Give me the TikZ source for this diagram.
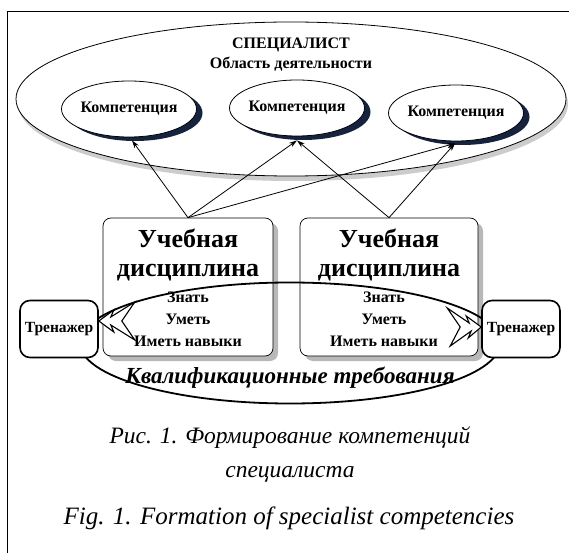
\documentclass[tikz,border=0pt]{standalone}
\usepackage{fontspec}
\setmainfont{Liberation Serif}
\usetikzlibrary{arrows.meta,shapes.geometric,shadows,calc}
\definecolor{navy}{HTML}{15233F}
\begin{document}
\begin{tikzpicture}[x=1pt,y=-1pt,
  comp/.style={ellipse, draw, line width=0.8pt, fill=white, minimum width=135pt, minimum height=56pt, inner sep=0pt,
    font=\bfseries\fontsize{16}{18}\selectfont,
    drop shadow={shadow xshift=6pt, shadow yshift=-4pt, fill=navy, opacity=1}},
  discbox/.style={rectangle, rounded corners=8pt, draw, line width=0.7pt, fill=white, minimum height=138pt,
    drop shadow={shadow xshift=5pt, shadow yshift=-5pt, fill=black!28, opacity=1}},
  trbox/.style={rectangle, rounded corners=10pt, draw, line width=1.6pt, fill=white, minimum width=78pt, minimum height=57pt,
    font=\bfseries\fontsize{15.5}{17}\selectfont, inner sep=0pt},
  conn/.style={-{Stealth[length=8pt,width=5pt]}, line width=0.8pt},
  bolt/.style={draw, fill=white, line width=1.1pt, line join=miter},
  disc/.style={font=\bfseries\fontsize{26}{29}\selectfont, align=center, inner sep=0pt},
  skills/.style={font=\bfseries\fontsize{16}{22}\selectfont, align=center, inner sep=0pt},
  captext/.style={font=\itshape\fontsize{23.5}{34}\selectfont, align=center, inner sep=0pt}
]
\useasboundingbox (0,0) rectangle (569,553);
% frame
\draw[line width=1.3pt] (7.5,553) -- (7.5,11.5) -- (569,11.5);
% big ellipse
\node (spec) [ellipse, draw, line width=0.8pt, fill=white, minimum width=550pt, minimum height=154pt, inner sep=0pt,
  drop shadow={shadow xshift=2pt, shadow yshift=-5pt, fill=black!20, opacity=1}] at (291,99) {};
\node (spect) [font=\bfseries\fontsize{16}{20}\selectfont, align=center, inner sep=0pt] at (291,55) {СПЕЦИАЛИСТ\\Область деятельности};
% competencies
\node (c1) [comp] at (129,109) {\makebox[0pt]{Компетенция}};
\node (c2) [comp] at (297,108) {\makebox[0pt]{Компетенция}};
\node (c3) [comp] at (456,113) {\makebox[0pt]{Компетенция}};
% discipline boxes
\node (b1) [discbox, minimum width=170pt] at (188,287) {};
\node (b2) [discbox, minimum width=178pt] at (389,287) {};
\node (d1) [disc] at (188,254.5) {Учебная\\дисциплина};
\node (d2) [disc] at (389,254.5) {Учебная\\дисциплина};
\node (k1) [skills] at (188,319) {Знать\\Уметь\\Иметь навыки};
\node (k2) [skills] at (384,319) {Знать\\Уметь\\Иметь навыки};
% arrows
\draw[conn] (b1.north) -- ($(c1.south)+(3,3)$);
\draw[conn] (b1.north) -- ($(c2.south)+(0,4)$);
\draw[conn] (b1.north) -- ($(c3.south)+(-1,2)$);
\draw[conn] (b2.north) -- ($(c2.south)+(0,4)$);
\draw[conn] (b2.north) -- ($(c3.south)+(-1,2)$);
% qualification ellipse
\node (kv) [ellipse, draw, line width=1.8pt, minimum width=420pt, minimum height=121pt, inner sep=0pt] at (290,343) {};
\node (kvt) [font=\bfseries\itshape\fontsize{23}{26}\selectfont, inner sep=0pt] at (290,378) {Квалификационные требования};
% trainers
\node (t1) [trbox] at (59,329) {Тренажер};
\node (t2) [trbox] at (521,329) {Тренажер};
% lightning arrows
\draw[bolt] ($(t1.east)+(0,-8)$) -- ++(15,-11) -- ++(-3,7) -- ++(24,-15) -- ++(-13,19) -- ++(13,19) -- ++(-24,-15) -- ++(3,7) -- cycle;
\draw[bolt] ($(t2.west)+(0,-2)$) -- ++(-15,-11) -- ++(3,7) -- ++(-22,-15) -- ++(13,19) -- ++(-10,19) -- ++(21,-15) -- ++(-3,7) -- cycle;
% captions
\node (cap1) [captext] at (290,454) {Рис. 1. Формирование компетенций\\специалиста};
\node (cap2) [captext, font=\itshape\fontsize{25}{30}\selectfont] at (289,518) {Fig. 1. Formation of specialist competencies};
\end{tikzpicture}
\end{document}
